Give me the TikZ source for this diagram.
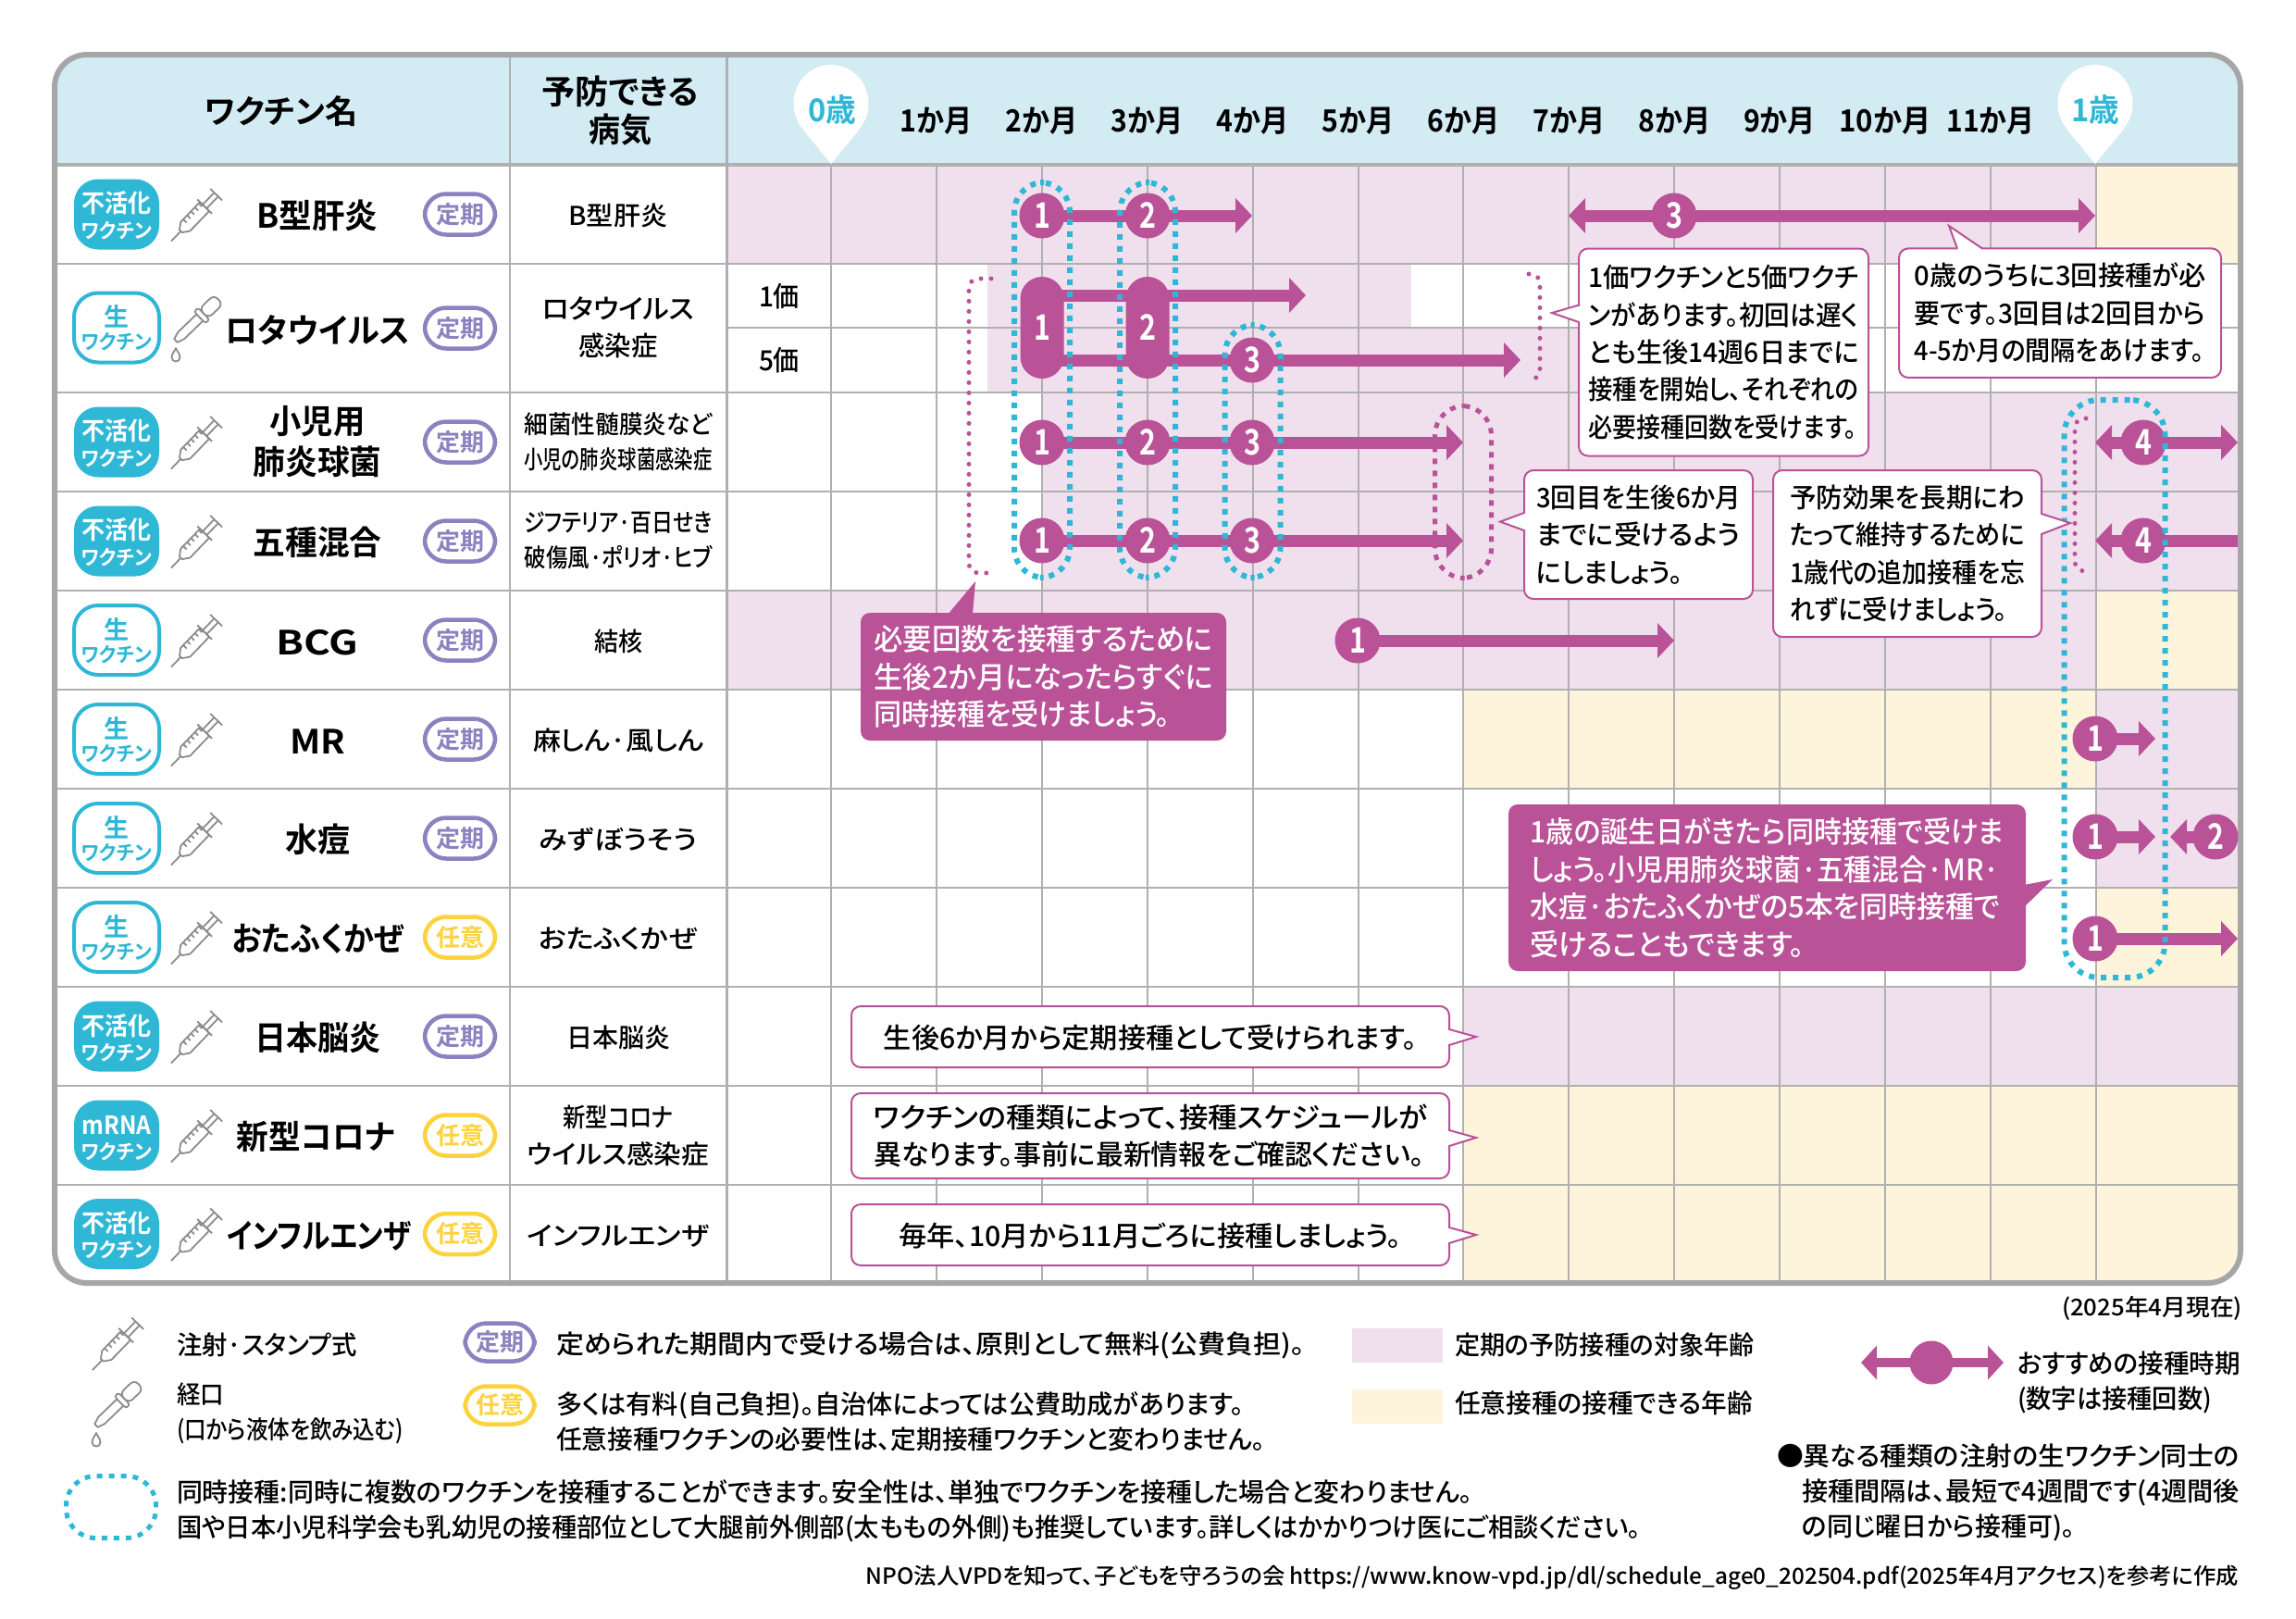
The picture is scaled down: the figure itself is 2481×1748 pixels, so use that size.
\documentclass[tikz,border=0pt]{standalone}
\usepackage{fontspec}
\usepackage{graphicx}
\setmainfont{Noto Sans CJK JP}[UprightFont=* Medium,BoldFont=* Bold,RawFeature=+palt]
\usetikzlibrary{arrows.meta}
\definecolor{mg}{HTML}{BA5297}
\definecolor{cy}{HTML}{2FB8D6}
\definecolor{pk}{HTML}{F0E0EE}
\definecolor{yl}{HTML}{FEF4DC}
\definecolor{hd}{HTML}{D3EBF3}
\definecolor{gr}{HTML}{B0B0B0}
\definecolor{fr}{HTML}{A5A7A7}
\definecolor{pu}{HTML}{8B82BF}
\definecolor{gd}{HTML}{FCD23F}
\definecolor{ic}{HTML}{8C8C8C}
\newcommand\fs[2]{\fontsize{#1}{#2}\selectfont}
\newcommand\stt{\rule[-.06em]{0pt}{1em}}
\newcommand\fw[2]{\resizebox{#1pt}{\height}{#2}}
\newcommand\dn[1]{\scalebox{.8}[1]{#1}}
\pgfdeclarelayer{fills}
\pgfdeclarelayer{lines}
\pgfsetlayers{fills,lines,main}
\tikzset{
 tx/.style={inner sep=0pt,outer sep=0pt,execute at begin node=\stt,execute at end node=\stt},
 t/.style n args={2}{tx,font=\fs{#1}{#2}},
 tb/.style n args={2}{tx,font=\fs{#1}{#2}\bfseries},
 dose/.style={circle,fill=mg,text=white,minimum size=49pt,inner sep=0pt,font=\fs{38}{38}\bfseries},
 tallpill/.style={rectangle,rounded corners=23.5pt,fill=mg,text=white,minimum width=47pt,minimum height=110pt,inner sep=0pt,font=\fs{38}{38}\bfseries},
 bar/.style={draw=mg,line width=13pt},
 hbar/.style={bar,-{Triangle[length=18pt,width=37pt]}},
 pillc/.style={rectangle,draw=cy,line width=6pt,dash pattern=on 6pt off 7pt,rounded corners=32pt,inner sep=0pt},
 pillm/.style={rectangle,draw=mg,line width=5pt,dash pattern=on 6pt off 7pt,rounded corners=32pt,inner sep=0pt},
 brk/.style={draw=mg,line width=5pt,line cap=round,dash pattern=on 0pt off 11pt,rounded corners=10pt},
 callw/.style={rectangle,draw=mg,line width=2pt,fill=white,rounded corners=10pt,inner sep=0pt,align=left,font=\fs{29}{40.4},execute at begin node=\stt,execute at end node=\stt},
 callp/.style={rectangle,fill=mg,text=white,rounded corners=10pt,inner sep=0pt,align=left,font=\fs{32}{40.4},execute at begin node=\stt,execute at end node=\stt},
 tag/.style={rectangle,rounded corners=23pt,line width=4.5pt,fill=white,minimum width=76pt,minimum height=44pt,inner sep=0pt,font=\fs{26}{26}\bfseries},
 tei/.style={tag,draw=pu,text=pu},
 nin/.style={tag,draw=gd,text=gd},
 bdgf/.style={rectangle,rounded corners=26pt,fill=cy,minimum width=92pt,minimum height=76pt,inner sep=0pt},
 bdgl/.style={rectangle,rounded corners=26pt,fill=white,draw=cy,line width=4pt,minimum width=92pt,minimum height=75pt,inner sep=0pt},
 ico/.style={draw=ic,line width=1.8pt,fill=white,line join=round},
 pics/syr/.style={code={
  \begin{scope}[rotate=46]
   \draw[ico] (0,0)--(15,0);
   \draw[ico] (52,-3)--(70,-3) (52,3)--(70,3);
   \draw[ico] (70,-9)--(70,9);
   \draw[ico] (15,-2)--(22,-7)--(52,-7)--(52,7)--(22,7)--(15,2)--cycle;
   \foreach \u in {26,32,38,44,50}{\draw[ico] (\u,-7)--(\u,-2);}
   \draw[ico] (52,-11)--(52,11);
  \end{scope}}},
 pics/drp/.style={code={
  \begin{scope}[rotate=44]
   \draw[ico] (0,-2.5)--(0,2.5)--(8,5)--(36,5)--(36,-5)--(8,-5)--cycle;
   \draw[ico,rounded corners=3pt] (36,-9) rectangle (42,9);
   \draw[ico,rounded corners=6pt] (42,-7) rectangle (64,7);
  \end{scope}
  \draw[ico] (0,8) .. controls (-1,11) and (-4.5,14) .. (-4.5,18) .. controls (-4.5,24) and (4.5,24) .. (4.5,18) .. controls (4.5,14) and (1,11) .. (0,8) -- cycle;}},
 pics/pinshape/.style={code={
  \fill[white] (0,0) -- (-28,-34) .. controls (-36,-45) and (-40.5,-52) .. (-40.5,-65) .. controls (-40.5,-89) and (-22,-107) .. (0,-107) .. controls (22,-107) and (40.5,-89) .. (40.5,-65) .. controls (40.5,-52) and (36,-45) .. (28,-34) -- cycle;}},
}
% name and tag of a row: id, y, name, tag style, tag text
\newcommand\rowname[5]{%
 \node[tb={36}{40}] (n#1) at (343,#2) {#3};
 \node[#4] (t#1) at (497,#2) {#5};
}
% disease with one line: id, y, text
\newcommand\rowdis[3]{\node[t={28}{39}] (d#1) at (668,#2) {#3};}
\newcommand\binact[3]{%
 \node[bdgf] (b#1) at (126,#2) {};
 \node[tb={27}{27},text=white] (bu#1) at (126,#2-13) {\fw{75}{#3}};
 \node[tb={22}{22},text=white] (bl#1) at (126,#2+16) {\fw{76}{ワクチン}};
 \pic at (185,#2+29) {syr};
}
\newcommand\blive[2]{%
 \node[bdgl] (b#1) at (126,#2) {};
 \node[tb={27}{27},text=cy] (bu#1) at (126,#2-13) {生};
 \node[tb={22}{22},text=cy] (bl#1) at (126,#2+14) {\fw{76}{ワクチン}};
 \pic at (185,#2+29) {syr};
}
\newcommand\tailw[3]{%
 \fill[white] #1 -- #2 -- #3 -- cycle;
 \draw[draw=white,line width=3pt,shorten >=1pt,shorten <=1pt] #1 -- #3;
 \draw[draw=mg,line width=2pt,line join=miter] #1 -- #2 -- #3;
}
\begin{document}
\begin{tikzpicture}[x=1pt,y=-1pt]
\useasboundingbox (0,0) rectangle (2481,1748);
\begin{pgfonlayer}{fills}
 \fill[white] (0,0) rectangle (2481,1748);
 \begin{scope}
  \clip[rounded corners=35pt] (59,59) rectangle (2421,1386);
  \fill[hd] (59,59) rectangle (2421,178);
  \foreach \xa/\ya/\xb/\yb/\cc in {
    785/178/2266/285/pk, 2266/178/2421/285/yl,
    1067/285/1525/354/pk, 1067/354/1800/424/pk,
    1126/424/2421/638/pk, 1067/354/1126/424/pk,
    785/638/2266/745/pk, 2266/638/2421/745/yl,
    1581/745/2266/852/yl, 2266/745/2421/852/pk,
    2266/852/2421/959/pk, 2266/959/2421/1066/yl,
    1581/1066/2421/1173/pk, 1581/1173/2421/1386/yl}
   {\fill[\cc] (\xa,\ya) rectangle (\xb,\yb);}
 \end{scope}
 \foreach \k in {0,...,12}{\draw[gr,line width=2pt] ({898+113.9*\k},178) -- ({898+113.9*\k},1386);}
 \draw[gr,line width=2pt] (551,59) -- (551,1386);
 \draw[gr,line width=3pt] (785,59) -- (785,1386);
 \foreach \yy in {285,424,531,638,745,852,959,1066,1173,1280}{\draw[gr,line width=2.5pt] (59,\yy) -- (2421,\yy);}
 \draw[gr,line width=2pt] (785,354) -- (2421,354);
 \draw[gr,line width=4pt] (59,178) -- (2421,178);
 \draw[fr,line width=6pt,rounded corners=35pt] (59,59) rectangle (2421,1386);
\end{pgfonlayer}

% header
\node[tb={35}{35}] (hname) at (304,119) {\fw{165}{ワクチン名}};
\node[tb={36}{41},align=center] (hdis) at (670,120) {\fw{169}{予防できる}\\\fw{68}{病気}};
\pic at (898,177) {pinshape};
\pic at (2264,177) {pinshape};
\node[tb={34}{34},text=cy] (age0) at (899,117) {\fw{52}{0歳}};
\node[tb={34}{34},text=cy] (age1) at (2264,117) {\fw{52}{1歳}};
\foreach \k/\ww in {1/78,2/78,3/78,4/78,5/78,6/78,7/78,8/78,9/78,10/99,11/95}
 {\node[tb={33}{33}] (m\k) at ({898+113.9*\k},128) {\fw{\ww}{\k か月}};}

% left column
\binact{hb}{231.5}{不活化}
\rowname{hb}{231.5}{\fw{131}{B型肝炎}}{tei}{定期}
\rowdis{hb}{231.5}{\fw{107}{B型肝炎}}
\node[bdgl] (brv) at (126,354) {};
\node[tb={27}{27},text=cy] (burv) at (126,341) {生};
\node[tb={22}{22},text=cy] (blrv) at (126,368) {\fw{76}{ワクチン}};
\pic at (190,368) {drp};
\rowname{rv}{354.5}{\fw{200}{ロタウイルス}}{tei}{定期}
\node[t={29}{40},align=center] (drv) at (668,354) {\fw{165}{ロタウイルス}\\\fw{85}{感染症}};
\binact{pc}{477.5}{不活化}
\node[tb={36}{44},align=center] (npc) at (343,477) {\fw{103}{小児用}\\\fw{139}{肺炎球菌}};
\node[tei] (tpc) at (497,477.5) {定期};
\node[t={27}{38},align=center] (dpc) at (668,477) {\fw{203}{細菌性髄膜炎など}\\\fw{203}{小児の肺炎球菌感染症}};
\binact{dt}{584.5}{不活化}
\rowname{dt}{584.5}{\fw{139}{五種混合}}{tei}{定期}
\node[t={27}{38},align=center] (ddt) at (668,584) {\fw{204}{ジフテリア·百日せき}\\\fw{203}{破傷風·ポリオ·ヒブ}};
\blive{bc}{691.5}
\rowname{bc}{691.5}{\fw{89}{BCG}}{tei}{定期}
\rowdis{bc}{691.5}{\fw{52}{結核}}
\blive{mr}{798.5}
\rowname{mr}{798.5}{\fw{60}{MR}}{tei}{定期}
\rowdis{mr}{798.5}{\fw{184}{麻しん·風しん}}
\blive{vz}{905.5}
\rowname{vz}{905.5}{\fw{70}{水痘}}{tei}{定期}
\rowdis{vz}{905.5}{\fw{170}{みずぼうそう}}
\blive{mp}{1012.5}
\rowname{mp}{1012.5}{\fw{185}{おたふくかぜ}}{nin}{任意}
\rowdis{mp}{1012.5}{\fw{171}{おたふくかぜ}}
\binact{je}{1119.5}{不活化}
\rowname{je}{1119.5}{\fw{136}{日本脳炎}}{tei}{定期}
\rowdis{je}{1119.5}{\fw{112}{日本脳炎}}
\binact{cv}{1226.5}{mRNA}
\node[tb={36}{40}] (ncv) at (341,1226.5) {\fw{171}{新型コロナ}};
\node[nin] (tcv) at (497,1226.5) {任意};
\node[t={28}{40},align=center] (dcv) at (668,1227) {\fw{119}{新型コロナ}\\\fw{196}{ウイルス感染症}};
\binact{fl}{1333}{不活化}
\node[tb={36}{40}] (nfl) at (345,1333) {\fw{200}{インフルエンザ}};
\node[nin] (tfl) at (497,1333) {任意};
\rowdis{fl}{1333}{\fw{196}{インフルエンザ}}

% valence labels
\node[t={30}{30}] (v1) at (842,319) {\fw{44}{1価}};
\node[t={30}{30}] (v5) at (842,388) {\fw{44}{5価}};

% dose markers
\node[dose] (hb1) at (1126,233) {\dn{1}};
\node[dose] (hb2) at (1240,233) {\dn{2}};
\node[dose] (hb3) at (1809,233) {\dn{3}};
\node[tallpill] (rv1) at (1126,354) {\dn{1}};
\node[tallpill] (rv2) at (1240,354) {\dn{2}};
\node[dose] (rv3) at (1353,389) {\dn{3}};
\foreach \i/\xx in {1/1126,2/1240,3/1353}{
 \node[dose] (pc\i) at (\xx,478) {\dn{\i}};
 \node[dose] (dt\i) at (\xx,584) {\dn{\i}};
}
\node[dose] (pc4) at (2316,478) {\dn{4}};
\node[dose] (dt4) at (2316,584) {\dn{4}};
\node[dose] (bc1) at (1467,692) {\dn{1}};
\node[dose] (mr1) at (2264,798) {\dn{1}};
\node[dose] (vz1) at (2264,904) {\dn{1}};
\node[dose] (vz2) at (2394,904) {\dn{2}};
\node[dose] (mp1) at (2264,1014) {\dn{1}};

% arrow ends
\coordinate (hbE) at (1353,233);
\coordinate (hb3L) at (1695,233);
\coordinate (hb3R) at (2264,233);
\coordinate (rvT) at (1411,319);
\coordinate (rvE) at (1643,389);
\coordinate (pcE) at (1581,478);
\coordinate (dtE) at (1581,584);
\coordinate (pc4L) at (2264,478);
\coordinate (pc4R) at (2418,478);
\coordinate (dt4L) at (2264,584);
\coordinate (dt4R) at (2418,584);
\coordinate (bcE) at (1809,692);
\coordinate (mrE) at (2329,798);
\coordinate (vz1E) at (2329,904);
\coordinate (vz2E) at (2345,904);
\coordinate (mpE) at (2418,1014);
\begin{pgfonlayer}{lines}
 \draw[hbar] (hb1.center) -- (hbE);
 \draw[hbar] (hb3.center) -- (hb3L);
 \draw[hbar] (hb3.center) -- (hb3R);
 \draw[hbar] (rv1.center |- rvT) -- (rvT);
 \draw[hbar] (rv1.center |- rvE) -- (rvE);
 \draw[hbar] (pc1.center) -- (pcE);
 \draw[hbar] (dt1.center) -- (dtE);
 \draw[hbar] (pc4.center) -- (pc4L);
 \draw[hbar] (pc4.center) -- (pc4R);
 \draw[hbar] (dt4.center) -- (dt4L);
 \draw[bar] (dt4.center) -- (dt4R);
 \draw[hbar] (bc1.center) -- (bcE);
 \draw[hbar] (mr1.center) -- (mrE);
 \draw[hbar] (vz1.center) -- (vz1E);
 \draw[hbar] (vz2.center) -- (vz2E);
 \draw[hbar] (mp1.center) -- (mpE);
\end{pgfonlayer}

% same-time groups
\node[pillc,minimum width=60pt,minimum height=427pt] (g1) at (1126,410.5) {};
\node[pillc,minimum width=60pt,minimum height=427pt] (g2) at (1240,410.5) {};
\node[pillc,minimum width=60pt,minimum height=273pt] (g3) at (1353.5,487.5) {};
\node[pillm,minimum width=61pt,minimum height=186pt] (g4) at (1581,531.5) {};
\node[pillc,rounded corners=38pt,minimum width=109pt,minimum height=624pt] (g5) at (2285,744) {};

% brackets
\coordinate (ba1) at (1071,301); \coordinate (ba2) at (1047,301); \coordinate (ba3) at (1047,619); \coordinate (ba4) at (1071,619);
\draw[brk] (ba1) -- (ba2) -- (ba3) -- (ba4);
\coordinate (bb1) at (1652,296); \coordinate (bb2) at (1664,296); \coordinate (bb3) at (1664,410); \coordinate (bb4) at (1652,410);
\draw[brk] (bb1) -- (bb2) -- (bb3) -- (bb4);
\coordinate (bc1a) at (2254,452); \coordinate (bc2a) at (2242,452); \coordinate (bc3a) at (2242,617); \coordinate (bc4a) at (2254,617);
\draw[brk] (bc1a) -- (bc2a) -- (bc3a) -- (bc4a);

% callouts
\node[callw,minimum width=313pt,minimum height=224pt] (ca) at (1862.5,380.5) {\fw{292}{1価ワクチンと5価ワクチ}\\\fw{292}{ンがあります。初回は遅く}\\\fw{292}{とも生後14週6日までに}\\\fw{292}{接種を開始し、それぞれの}\\\fw{290}{必要接種回数を受けます。}};
\tailw{(1706,329.6)}{(1677,338)}{(1706,348)}
\node[callw,minimum width=348pt,minimum height=139.5pt] (cb) at (2226,338.2) {\fw{315}{0歳のうちに3回接種が必}\\\fw{315}{要です。3回目は2回目から}\\\fw{313}{4-5か月の間隔をあけます。}};
\tailw{(2115,268.5)}{(2106,244)}{(2142,268.5)}
\node[callw,minimum width=247pt,minimum height=139pt] (cc) at (1770.5,577.5) {\fw{221}{3回目を生後6か月}\\\fw{221}{までに受けるよう}\\\fw{158}{にしましょう。}};
\tailw{(1647,554)}{(1621,563.6)}{(1647,573)}
\node[callw,minimum width=290pt,minimum height=180pt] (cd) at (2061,598) {\fw{254}{予防効果を長期にわ}\\\fw{254}{たって維持するために}\\\fw{254}{1歳代の追加接種を忘}\\\fw{235}{れずに受けましょう。}};
\tailw{(2206,555)}{(2237,565)}{(2206,577)}
\node[callp,minimum width=395pt,minimum height=138pt] (ce) at (1127.5,731) {\fw{366}{必要回数を接種するために}\\\fw{366}{生後2か月になったらすぐに}\\\fw{320}{同時接種を受けましょう。}};
\fill[mg] (1024,664) -- (1054,628) -- (1051,664) -- cycle;
\node[callp,minimum width=559pt,minimum height=180pt] (cf) at (1909.5,959) {\fw{512}{1歳の誕生日がきたら同時接種で受けま}\\\fw{507}{しょう。小児用肺炎球菌·五種混合·MR·}\\\fw{508}{水痘·おたふくかぜの5本を同時接種で}\\\fw{296}{受けることもできます。}};
\fill[mg] (2187,956) -- (2218,950) -- (2187,980) -- cycle;
\node[callw,font=\fs{30}{40},minimum width=646pt,minimum height=66pt] (cg) at (1243,1120) {\fw{576}{生後6か月から定期接種として受けられます。}};
\tailw{(1566,1112)}{(1595,1120)}{(1566,1129)}
\node[callw,font=\fs{30}{40},minimum width=646pt,minimum height=92pt] (ch) at (1243,1227) {\fw{598}{ワクチンの種類によって、接種スケジュールが}\\\fw{595}{異なります。事前に最新情報をご確認ください。}};
\tailw{(1566,1221)}{(1595,1229)}{(1566,1238)}
\node[callw,font=\fs{30}{40},minimum width=646pt,minimum height=66pt] (ci) at (1243,1334) {\fw{543}{毎年、10月から11月ごろに接種しましょう。}};
\tailw{(1566,1326)}{(1595,1334)}{(1566,1343)}

% legend
\node[t={25}{25},anchor=east] (asof) at (2423,1412) {\fw{195}{(2025年4月現在)}};
\pic at (100,1480) {syr};
\node[t={28}{28},anchor=west] (l1) at (191,1452) {\fw{195}{注射·スタンプ式}};
\pic at (104,1540) {drp};
\node[t={27}{38},anchor=west,align=left] (l2) at (191,1527) {\fw{51}{経口}\\\fw{245}{(口から液体を飲み込む)}};
\node[tei,minimum width=75pt,minimum height=41pt] (l3) at (540,1450) {定期};
\node[t={28}{28},anchor=west] (l3t) at (601,1452) {\fw{809}{定められた期間内で受ける場合は、原則として無料(公費負担)。}};
\node[nin,minimum width=75pt,minimum height=41pt] (l4) at (540,1518) {任意};
\node[t={28}{38},anchor=west,align=left] (l4t) at (601,1536) {\fw{743}{多くは有料(自己負担)。自治体によっては公費助成があります。}\\\fw{766}{任意接種ワクチンの必要性は、定期接種ワクチンと変わりません。}};
\node[pillc,line width=5pt,rounded corners=32pt,minimum width=97pt,minimum height=67pt] (l5) at (120,1628) {};
\node[t={28}{38},anchor=west,align=left] (l5t) at (191,1632) {\fw{1400}{同時接種:同時に複数のワクチンを接種することができます。安全性は、単独でワクチンを接種した場合と変わりません。}\\\fw{1582}{国や日本小児科学会も乳幼児の接種部位として大腿前外側部(太ももの外側)も推奨しています。詳しくはかかりつけ医にご相談ください。}};
\node[fill=pk,minimum width=98pt,minimum height=37pt,inner sep=0pt] (l6) at (1510,1453) {};
\node[t={28}{28},anchor=west] (l6t) at (1572,1452) {\fw{324}{定期の予防接種の対象年齢}};
\node[fill=yl,minimum width=98pt,minimum height=37pt,inner sep=0pt] (l7) at (1510,1519) {};
\node[t={28}{28},anchor=west] (l7t) at (1572,1515) {\fw{322}{任意接種の接種できる年齢}};
\node[dose,minimum size=47pt] (l8) at (2087,1472) {};
\coordinate (l8L) at (2011,1472);
\coordinate (l8R) at (2165,1472);
\begin{pgfonlayer}{lines}
 \draw[draw=mg,line width=10pt,-{Triangle[length=17pt,width=36pt]}] (l8.center) -- (l8L);
 \draw[draw=mg,line width=10pt,-{Triangle[length=17pt,width=36pt]}] (l8.center) -- (l8R);
\end{pgfonlayer}
\node[t={28}{38},anchor=west,align=left] (l8t) at (2180,1493) {\fw{241}{おすすめの接種時期}\\\fw{210}{(数字は接種回数)}};
\node[t={28}{38},anchor=north west,align=left] (l9) at (1920,1560) {\fw{500}{●異なる種類の注射の生ワクチン同士の}\\\hspace*{27pt}\fw{473}{接種間隔は、最短で4週間です(4週間後}\\\hspace*{27pt}\fw{295}{の同じ曜日から接種可)。}};
\node[t={24}{24},anchor=east] (src) at (2419,1703) {\fw{1483}{NPO法人VPDを知って、子どもを守ろうの会 https://www.know-vpd.jp/dl/schedule\_age0\_202504.pdf(2025年4月アクセス)を参考に作成}};
\end{tikzpicture}
\end{document}
